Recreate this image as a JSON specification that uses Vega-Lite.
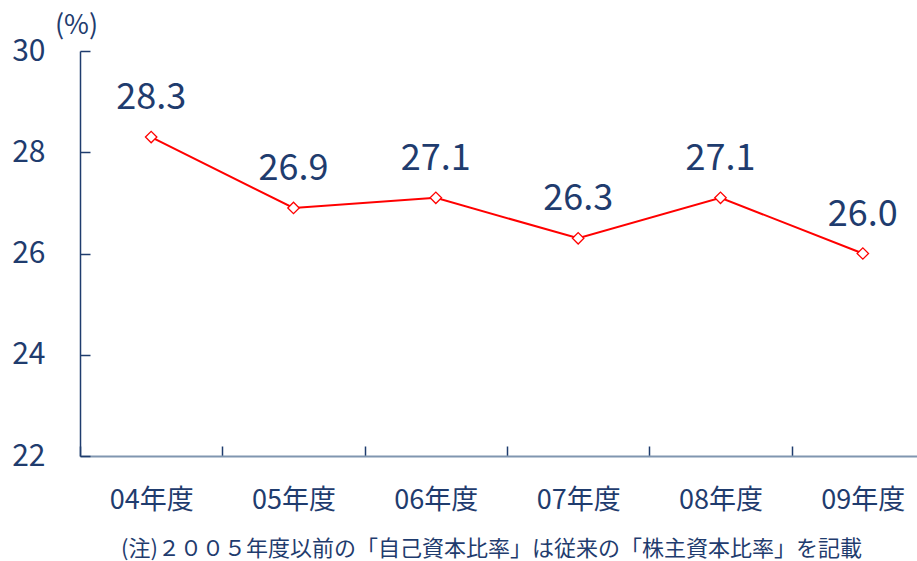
{
  "$schema": "https://vega.github.io/schema/vega-lite/v6.json",
  "width": 854,
  "height": 405,
  "autosize": "none",
  "padding": {"left": 80, "top": 51, "right": 0, "bottom": 105},
  "background": "white",
  "config": {
    "view": {"stroke": null},
    "font": "Noto Sans CJK JP"
  },
  "data": {
    "values": [
      {"year": "04年度", "ratio": 28.3},
      {"year": "05年度", "ratio": 26.9},
      {"year": "06年度", "ratio": 27.1},
      {"year": "07年度", "ratio": 26.3},
      {"year": "08年度", "ratio": 27.1},
      {"year": "09年度", "ratio": 26.0}
    ]
  },
  "encoding": {
    "x": {
      "field": "year",
      "type": "ordinal",
      "sort": null,
      "scale": {"type": "band", "paddingInner": 0, "paddingOuter": 0},
      "axis": {
        "title": "(注)２００５年度以前の「自己資本比率」は従来の「株主資本比率」を記載",
        "titleX": 411,
        "titleY": 92,
        "titleAlign": "center",
        "titleBaseline": "middle",
        "titleFontSize": 22,
        "titleFontWeight": "normal",
        "titleColor": "#1F3C6E",
        "labelAngle": 0,
        "labelFontSize": 27,
        "labelColor": "#1F3C6E",
        "labelPadding": 54,
        "labelBaseline": "middle",
        "tickBand": "extent",
        "tickSize": -10,
        "tickColor": "#1F3C6E",
        "tickWidth": 1.5,
        "domainColor": "#8096B0",
        "domainWidth": 2
      }
    },
    "y": {
      "field": "ratio",
      "type": "quantitative",
      "scale": {"domain": [22, 30], "nice": false, "zero": false},
      "axis": {
        "values": [22, 24, 26, 28, 30],
        "title": "(%)",
        "titleAngle": 0,
        "titleX": -4,
        "titleY": -26,
        "titleAlign": "center",
        "titleBaseline": "middle",
        "titleFontSize": 27,
        "titleFontWeight": "normal",
        "titleColor": "#1F3C6E",
        "labelFontSize": 30,
        "labelColor": "#1F3C6E",
        "labelPadding": 45,
        "labelBaseline": "middle",
        "tickSize": -10,
        "tickColor": "#1F3C6E",
        "tickWidth": 1.5,
        "domainColor": "#1F3C6E",
        "domainWidth": 1.5,
        "grid": false
      }
    }
  },
  "layer": [
    {
      "mark": {"type": "line", "color": "#FF0000", "strokeWidth": 2}
    },
    {
      "mark": {"type": "point", "shape": "diamond", "size": 130, "filled": true, "fill": "white", "stroke": "#FF0000", "strokeWidth": 1.3, "opacity": 1}
    },
    {
      "mark": {"type": "text", "dy": -39, "fontSize": 36, "color": "#1F3C6E", "baseline": "middle"},
      "encoding": {
        "text": {"field": "ratio", "type": "quantitative", "format": ".1f"}
      }
    }
  ]
}
